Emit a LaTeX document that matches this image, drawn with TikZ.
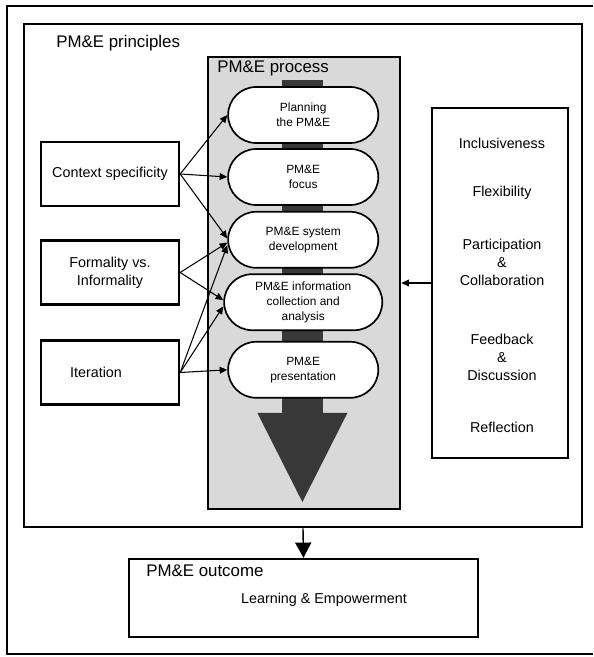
\documentclass[tikz,border=0pt]{standalone}
\usepackage{fontspec}
\setmainfont{Liberation Sans}
\usetikzlibrary{arrows.meta,shapes.misc}

\begin{document}
\begin{tikzpicture}[every node/.style={font=\fontsize{10.2}{12.8}\selectfont},
	>={Triangle[length=1.9mm,width=1.7mm]},
	frame/.style={draw, line width=1.8pt, inner sep=0pt},
	factor/.style={draw, line width=1.7pt, minimum width=3.45cm, minimum height=1.6cm, align=center},
	stage/.style={draw, fill=white, rounded rectangle, line width=1.2pt, minimum width=3.825cm, minimum height=1.4cm, inner sep=1pt, align=center, font=\fontsize{8.5}{10.7}\selectfont},
	heading/.style={anchor=west, inner sep=0pt, font=\fontsize{12}{14}\selectfont},
	link/.style={->, line width=0.75pt}]
	\useasboundingbox (0,0) rectangle (14.825,16.425);
	\draw[line width=1.6pt] (14.825,16.275) -- (0.175,16.275) -- (0.175,0.075) -- (14.825,0.075);
	% principles and process
	\node[frame, line width=1.9pt, minimum width=13.95cm, minimum height=12.575cm] (principles) at (7.575,9.5375) {};
	\node[heading] (principlestitle) at (1.4,15.35) {PM\&E principles};
	\node[frame, fill=black!15, minimum width=4.8cm, minimum height=11.3cm] (process) at (7.6,9.35) {};
	\fill[black!78] (7.05,14.425) rectangle (8.07,6.1);
	\fill[black!78] (6.435,6.1) -- (8.685,6.1) -- (7.56,3.875) -- cycle;
	\node[heading] (processtitle) at (5.425,14.725) {PM\&E process};
	\node[stage] (planning) at (7.58,13.55) {Planning\\the PM\&E};
	\node[stage] (focus) at (7.58,12.0) {PM\&E\\focus};
	\node[stage] (system) at (7.58,10.43) {PM\&E system\\development};
	\node[stage, minimum width=4.025cm] (collection) at (7.58,8.87) {PM\&E information\\collection and\\analysis};
	\node[stage] (presentation) at (7.58,7.18) {PM\&E\\presentation};
	% factors on the left
	\node[factor] (context) at (2.75,12.075) {Context specificity};
	\node[factor] (formality) at (2.75,9.6125) {Formality vs.\\Informality};
	\node[factor] (iteration) at (2.75,7.1125) {Iteration\hspace*{0.7cm}};
	\draw[link] (context.east) -- (planning.west);
	\draw[link] (context.east) -- (focus.west);
	\draw[link] (context.east) -- ([yshift=1pt]system.west);
	\draw[link] (formality.east) -- ([yshift=-2pt]system.west);
	\draw[link] (formality.east) -- ([yshift=1.5pt]collection.west);
	\draw[link] (iteration.east) -- ([yshift=-4pt]system.west);
	\draw[link] (iteration.east) -- ([yshift=-3pt]collection.west);
	\draw[link] (iteration.east) -- (presentation.west);
	% values on the right
	\node[frame, line width=1.7pt, minimum width=3.4cm, minimum height=8.75cm] (values) at (12.5,9.35) {};
	\node (inclusiveness) at (12.55,12.85) {Inclusiveness};
	\node (flexibility) at (12.55,11.6) {Flexibility};
	\node[align=center] (participation) at (12.55,9.875) {Participation\\\&\\Collaboration};
	\node[align=center] (feedback) at (12.55,7.5) {Feedback\\\&\\Discussion};
	\node (reflection) at (12.55,5.75) {Reflection};
	\draw[link] (values.west) -- (process.east);
	% outcome
	\node[frame, line width=1.7pt, minimum width=8.725cm, minimum height=1.95cm] (outcome) at (7.5875,1.475) {};
	\node[heading] (outcometitle) at (3.65,2.15) {PM\&E outcome};
	\node (learning) at (8.1,1.425) {Learning \& Empowerment};
	\draw[->, line width=1pt, >={Triangle[length=3.8mm,width=4mm]}] (principles.south) -- (outcome.north);
\end{tikzpicture}
\end{document}
